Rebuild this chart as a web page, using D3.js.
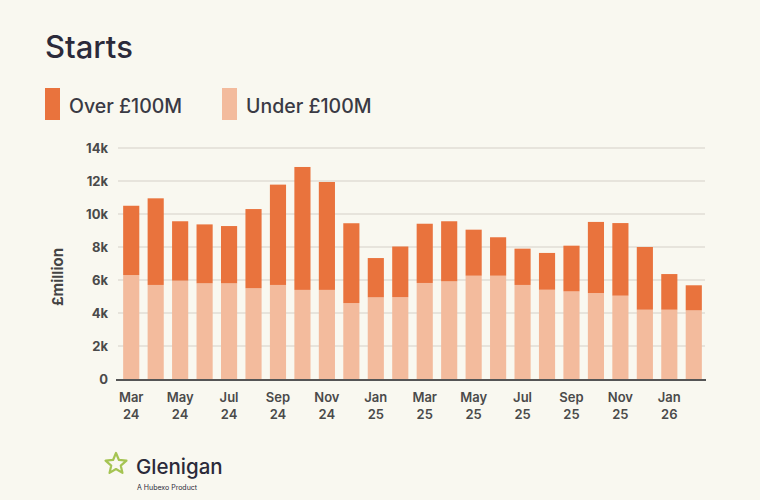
<!DOCTYPE html>
<html><head><meta charset="utf-8">
<script src="https://cdn.jsdelivr.net/npm/d3@7"></script>
<style>
html,body{margin:0;padding:0;background:#f9f8f0;}
svg{display:block;font-family:Inter,"Noto Sans",sans-serif;}
</style></head>
<body><svg id="c" width="760" height="500"></svg>
<script>
const months = ["Mar 24","Apr 24","May 24","Jun 24","Jul 24","Aug 24","Sep 24","Oct 24","Nov 24","Dec 24","Jan 25","Feb 25","Mar 25","Apr 25","May 25","Jun 25","Jul 25","Aug 25","Sep 25","Oct 25","Nov 25","Dec 25","Jan 26","Feb 26"];
const totals = [10.5,10.95,9.56,9.37,9.27,10.3,11.78,12.85,11.94,9.44,7.33,8.03,9.41,9.56,9.05,8.59,7.9,7.64,8.08,9.52,9.45,8.0,6.36,5.68];
const under100 = [6.3,5.7,5.96,5.8,5.8,5.5,5.7,5.4,5.4,4.6,4.95,4.96,5.82,5.92,6.26,6.26,5.7,5.41,5.31,5.21,5.05,4.2,4.2,4.16];
const over100 = totals.map((t,i)=>+(t-under100[i]).toFixed(2));
const yTicks = [0,2,4,6,8,10,12,14];
const yTickLabels = ["0","2k","4k","6k","8k","10k","12k","14k"];
const seriesNames = ["Over £100M","Under £100M"];
const colors = {over:"#e9733d", under:"#f3bb9d"};

const svg = d3.select("#c");
svg.append("rect").attr("width",760).attr("height",500).attr("fill","#f9f8f0");

const x = d3.scaleBand().domain(months).range([119,706]).paddingInner(0.34).paddingOuter(0.17);
const y = d3.scaleLinear().domain([0,14]).range([379,148]);

// gridlines
const grid = svg.append("g");
grid.selectAll("line").data(yTicks.filter(d=>d>0)).join("line")
  .attr("x1",118).attr("x2",705).attr("y1",d=>y(d)).attr("y2",d=>y(d))
  .attr("stroke","#e0ded6").attr("stroke-width",1.5);

// y axis labels
const yAxis = d3.axisLeft(y).tickValues(yTicks).tickFormat((d,i)=>yTickLabels[i]).tickSize(0).tickPadding(10);
const yg = svg.append("g").attr("transform","translate(118,0)").call(yAxis);
yg.select(".domain").remove();
yg.selectAll("text").attr("font-size",13).attr("font-weight",700).attr("fill","#4a4a4a").attr("font-family","Inter,sans-serif");

// stacked data
const data = months.map((m,i)=>({m, under:under100[i], over:over100[i]}));
const stack = d3.stack().keys(["under","over"])(data);
svg.append("g").selectAll("g").data(stack).join("g")
  .attr("fill",d=>colors[d.key])
  .selectAll("rect").data(d=>d).join("rect")
  .attr("x",d=>x(d.data.m)).attr("width",x.bandwidth())
  .attr("y",d=>y(d[1])).attr("height",d=>y(d[0])-y(d[1]));

// x axis
svg.append("line").attr("x1",116).attr("x2",706).attr("y1",y(0)+1).attr("y2",y(0)+1)
  .attr("stroke","#555").attr("stroke-width",2);
const xl = svg.append("g").selectAll("text").data(months.filter((d,i)=>i%2===0)).join("text")
  .attr("x",d=>x(d)+x.bandwidth()/2).attr("y",402)
  .attr("text-anchor","middle").attr("font-size",13).attr("font-weight",600).attr("fill","#4a4a4a");
xl.append("tspan").attr("x",d=>x(d)+x.bandwidth()/2).text(d=>d.split(" ")[0]);
xl.append("tspan").attr("x",d=>x(d)+x.bandwidth()/2).attr("dy",17).text(d=>d.split(" ")[1]);

// y axis title
svg.append("text").attr("transform","translate(63,277) rotate(-90)").attr("text-anchor","middle")
  .attr("font-size",15).attr("font-weight",700).attr("fill","#444").text("£million");

// title
svg.append("text").attr("x",45).attr("y",58).attr("font-size",31).attr("font-weight",500)
  .attr("fill","#2b2a3a").text("Starts");

// legend
const leg = [{n:seriesNames[0],c:colors.over,x:45},{n:seriesNames[1],c:colors.under,x:222}];
const lg = svg.append("g").selectAll("g").data(leg).join("g");
lg.append("rect").attr("x",d=>d.x).attr("y",88).attr("width",15).attr("height",32).attr("fill",d=>d.c);
lg.append("text").attr("x",d=>d.x+24).attr("y",113).attr("font-size",19.5).attr("font-weight",500)
  .attr("fill","#3a3a44").text(d=>d.n);

// logo
const star = d3.range(10).map(i=>{const a=-Math.PI/2+i*Math.PI/5; const r=i%2?5:11; return [116+r*Math.cos(a),464+r*Math.sin(a)];});
svg.append("path").attr("d",d3.line()(star)+"Z").attr("fill","none").attr("stroke","#a5c452").attr("stroke-width",2.2).attr("stroke-linejoin","round");
svg.append("text").attr("x",136).attr("y",474).attr("font-size",20.5).attr("font-weight",500).attr("fill","#2b2a3a").text("Glenigan");
svg.append("text").attr("x",137).attr("y",490).attr("font-size",7).attr("fill","#2b2a3a").text("A Hubexo Product");
</script></body></html>
